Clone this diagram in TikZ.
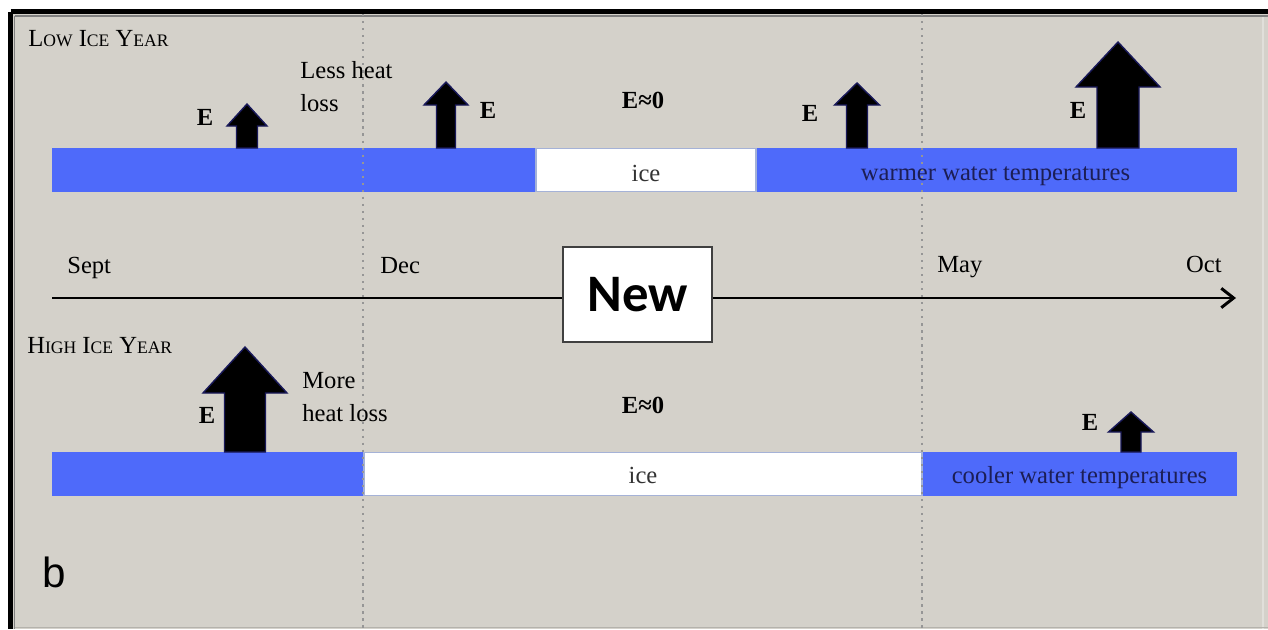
\documentclass[tikz,border=0pt]{standalone}
\usepackage{fontspec}
\setmainfont{Liberation Serif}
\setsansfont{Liberation Sans}
\newfontfamily\newboxfont{Carlito}
\usetikzlibrary{arrows.meta}

\definecolor{panelbg}{RGB}{212,209,202}
\definecolor{seablue}{RGB}{78,106,250}
\definecolor{iceedge}{RGB}{165,178,215}
\definecolor{arrowedge}{RGB}{25,25,90}
\definecolor{bartext}{RGB}{28,30,85}
\definecolor{monthline}{RGB}{150,150,150}

\newcommand{\smcap}[1]{{\fontsize{10}{12}\selectfont #1}}

\begin{document}
\begin{tikzpicture}[x=0.02cm, y=-0.02cm, >={Straight Barb[length=7pt,width=11pt]},
    lbl/.style={font=\fontsize{14}{19}\selectfont, inner sep=0pt},
    elbl/.style={font=\fontsize{14}{16}\selectfont\bfseries, inner sep=0pt},
    bartxt/.style={font=\fontsize{14}{16}\selectfont, inner sep=0pt},
    heat/.style={fill=black, draw=arrowedge, line width=0.8pt, line join=miter}]

    \useasboundingbox (0,0) rectangle (1268,629);

    % === 背景与边框 ===
    \fill[white] (0,0) rectangle (1268,629);
    \fill[panelbg] (12,13) rectangle (1268,629);
    \draw[panelbg!70!white, line width=0.8pt] (1263,17) -- (1263,629);
    \draw[panelbg!85!black, line width=0.6pt] (14,627.5) -- (1268,627.5);
    \draw[line width=2.8pt] (10.5,11.5) -- (10.5,629);
    \draw[line width=2.8pt] (10.5,11.5) -- (1268,11.5);
    \draw[gray, line width=0.6pt] (14.5,16) -- (14.5,629);
    \draw[gray, line width=0.6pt] (14.5,16) -- (1268,16);

    % === 水面条 ===
    \fill[seablue] (52,148) rectangle (1237,192);
    \fill[seablue] (52,452) rectangle (1237,496);
    \draw[iceedge, fill=white, line width=0.8pt] (536,148.5) rectangle (756,191.5);
    \draw[iceedge, fill=white, line width=0.8pt] (364,452.5) rectangle (922,495.5);

    % === 月份分隔虚线 ===
    \foreach \mx in {363, 922}
        \draw[monthline, line width=1.4pt, dash pattern=on 1.3pt off 2.7pt] (\mx,14) -- (\mx,629);

    % === 热通量箭头 ===
    \foreach \cx/\tip/\hb/\hw/\sw/\bot in {
        247/104/126/20/10.5/148,
        446/82/105/22/9.5/148,
        857/83/105/22.5/10.5/148,
        1118/42/87/42/21/148,
        245/347/393/42/20.5/452,
        1131/412/432/22.5/10/452}
        \draw[heat] (\cx-\sw,\bot) -- (\cx-\sw,\hb) -- (\cx-\hw,\hb) -- (\cx,\tip)
            -- (\cx+\hw,\hb) -- (\cx+\sw,\hb) -- (\cx+\sw,\bot) -- cycle;

    % === 时间轴 ===
    \coordinate (tl-start) at (52,298);
    \coordinate (tl-end) at (1236,298);
    \node[draw=black!75, fill=white, line width=1pt, minimum width=2.98cm, minimum height=1.9cm,
        font=\newboxfont\bfseries\fontsize{30}{30}\selectfont] (new) at (637.5,294.5) {New};
    \draw[line width=1.7pt] (tl-start) -- (new.west |- tl-start);
    \draw[line width=1.7pt, ->] (new.east |- tl-end) -- (tl-end);

    \node[lbl, anchor=base west] (sept) at (67,273) {Sept};
    \node[lbl, anchor=base west] (dec) at (380,273) {Dec};
    \node[lbl, anchor=base west] (may) at (937,272) {May};
    \node[lbl, anchor=base east] (oct) at (1222,272) {Oct};

    % === 低冰年 ===
    \node[lbl, anchor=west] (low) at (28,39)
        {L\smcap{OW} I\smcap{CE} Y\smcap{EAR}};
    \node[lbl, anchor=north west, align=left] (less) at (300,61) {Less heat\\loss};
    \node[elbl] (e-low1) at (205,117) {E};
    \node[elbl] (e-low2) at (488,110) {E};
    \node[elbl] (e-low0) at (643,100) {E≈0};
    \node[elbl] (e-low3) at (810,113) {E};
    \node[elbl] (e-low4) at (1078,110) {E};
    \node[bartxt, text=black!80, anchor=base] (ice-low) at (646,181) {ice};
    \node[bartxt, text=bartext, anchor=base] (warm) at (995.5,180) {warmer water temperatures};

    % === 高冰年 ===
    \node[lbl, anchor=west] (high) at (27,346)
        {H\smcap{IGH} I\smcap{CE} Y\smcap{EAR}};
    \node[lbl, anchor=north west, align=left] (more) at (302,372) {More\\heat loss};
    \node[elbl] (e-high1) at (207,415) {E};
    \node[elbl] (e-high0) at (643,405) {E≈0};
    \node[elbl] (e-high2) at (1090,422) {E};
    \node[bartxt, text=black!80, anchor=base] (ice-high) at (643,483) {ice};
    \node[bartxt, text=bartext, anchor=base] (cool) at (1079.5,483) {cooler water temperatures};

    % === 分图标号 ===
    \node[font=\sffamily\fontsize{24}{24}\selectfont, anchor=base west, inner sep=0pt] (panel) at (42,587) {b};

\end{tikzpicture}
\end{document}
